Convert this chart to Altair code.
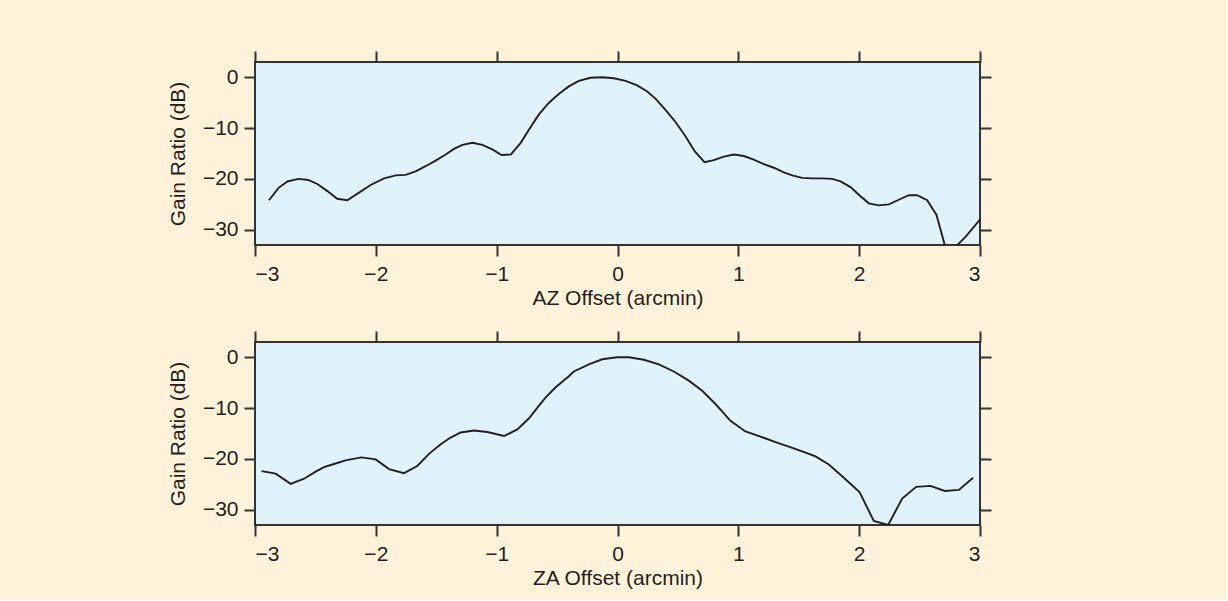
import altair as alt
import pandas as pd

# Azimuth cut: offset (arcmin) and gain ratio (dB)
az_offset = [-2.884, -2.807, -2.732, -2.641, -2.559, -2.484, -2.401, -2.319, -2.236,
             -2.139, -2.043, -1.932, -1.836, -1.753, -1.670, -1.588, -1.505, -1.422,
             -1.353, -1.284, -1.201, -1.119, -1.036, -0.959, -0.884, -0.801, -0.732,
             -0.650, -0.567, -0.486, -0.403, -0.320, -0.223, -0.127, -0.030, 0.066,
             0.163, 0.246, 0.314, 0.397, 0.480, 0.557, 0.640, 0.720, 0.797, 0.880,
             0.963, 1.046, 1.128, 1.211, 1.294, 1.377, 1.446, 1.528, 1.611, 1.694,
             1.777, 1.846, 1.928, 2.011, 2.080, 2.163, 2.246, 2.328, 2.411, 2.480,
             2.563, 2.640, 2.720, 2.800, 2.880, 3.000]
az_gain = [-24.2, -21.8, -20.5, -20.0, -20.2, -21.0, -22.4, -23.9, -24.2,
           -22.7, -21.2, -19.9, -19.3, -19.2, -18.5, -17.5, -16.4, -15.2,
           -14.1, -13.3, -12.9, -13.3, -14.2, -15.3, -15.2, -12.9, -10.3,
           -7.3, -5.0, -3.3, -1.8, -0.7, -0.1, 0.0, -0.2, -0.7,
           -1.6, -2.8, -4.2, -6.4, -8.8, -11.4, -14.6, -16.7, -16.3, -15.6,
           -15.2, -15.5, -16.2, -17.1, -17.8, -18.7, -19.3, -19.8, -19.9, -19.9,
           -20.0, -20.5, -21.6, -23.4, -24.8, -25.2, -25.0, -24.1, -23.2, -23.2,
           -24.2, -27.1, -34.0, -33.3, -31.4, -28.0]

# Zenith-angle cut: offset (arcmin) and gain ratio (dB)
za_offset = [-2.945, -2.829, -2.705, -2.594, -2.498, -2.429, -2.346, -2.250, -2.120,
             -2.001, -1.891, -1.767, -1.657, -1.560, -1.463, -1.381, -1.298, -1.188,
             -1.077, -0.939, -0.829, -0.732, -0.663, -0.594, -0.512, -0.457, -0.401,
             -0.361, -0.237, -0.127, -0.003, 0.094, 0.218, 0.342, 0.466, 0.590,
             0.701, 0.811, 0.935, 1.059, 1.183, 1.308, 1.418, 1.528, 1.639, 1.749,
             1.873, 2.003, 2.121, 2.240, 2.356, 2.472, 2.590, 2.709, 2.825, 2.943]
za_gain = [-22.4, -22.9, -24.9, -23.9, -22.5, -21.6, -21.0, -20.3, -19.7,
           -20.1, -22.0, -22.8, -21.4, -19.0, -17.1, -15.8, -14.8, -14.4,
           -14.7, -15.5, -14.2, -12.0, -9.9, -7.9, -5.9, -4.8, -3.7,
           -2.8, -1.4, -0.4, 0.0, 0.0, -0.5, -1.4, -2.8, -4.6,
           -6.6, -9.2, -12.5, -14.6, -15.6, -16.7, -17.6, -18.5, -19.5, -21.1,
           -23.7, -26.5, -32.2, -33.0, -27.8, -25.5, -25.3, -26.3, -26.1, -23.7]

x_ticks = [-3, -2, -1, 0, 1, 2, 3]
y_ticks = [0, -10, -20, -30]
x_domain = [-3, 3]
y_domain = [-33, 3]

FONT = "Liberation Sans"
INK = "#231f20"


def panel(offsets, gains, x_title):
    df = pd.DataFrame({"offset": offsets, "gain": gains})
    x_scale = alt.Scale(domain=x_domain, nice=False, zero=False)
    y_scale = alt.Scale(domain=y_domain, nice=False, zero=False)
    curve = alt.Chart(df).mark_line(color=INK, strokeWidth=1.9, clip=True).encode(
        x=alt.X("offset:Q", scale=x_scale,
                axis=alt.Axis(orient="bottom", values=x_ticks, title=x_title,
                              labelPadding=7, titlePadding=3)),
        y=alt.Y("gain:Q", scale=y_scale,
                axis=alt.Axis(orient="left", values=y_ticks, title="Gain Ratio (dB)",
                              labelPadding=6, titlePadding=14)),
    )
    # Mirror axes: tick marks only on the top and right edges
    mirror = alt.Chart(df).mark_line(opacity=0, clip=True).encode(
        x=alt.X("offset:Q", scale=x_scale,
                axis=alt.Axis(orient="top", values=x_ticks, labels=False, title=None)),
        y=alt.Y("gain:Q", scale=y_scale,
                axis=alt.Axis(orient="right", values=y_ticks, labels=False, title=None)),
    )
    return (alt.layer(curve, mirror)
            .resolve_axis(x="independent", y="independent")
            .properties(width=725, height=183))


chart = alt.vconcat(
    panel(az_offset, az_gain, "AZ Offset (arcmin)"),
    panel(za_offset, za_gain, "ZA Offset (arcmin)"),
    spacing=97,
    bounds="flush",
).properties(
    background="#fef3d9",
    padding={"left": 166, "top": 49, "right": 234, "bottom": 11},
).configure_view(
    fill="#e0f3fb", stroke="#333333", strokeWidth=2,
).configure_axis(
    domain=False, grid=False, ticks=True, tickSize=11, tickWidth=2,
    tickColor="#333333", labelFont=FONT, labelFontSize=21, labelColor=INK,
    titleFont=FONT, titleFontSize=21, titleFontWeight="normal", titleColor=INK,
)

chart.save("out.html", embed_options={"renderer": "svg", "actions": False})
